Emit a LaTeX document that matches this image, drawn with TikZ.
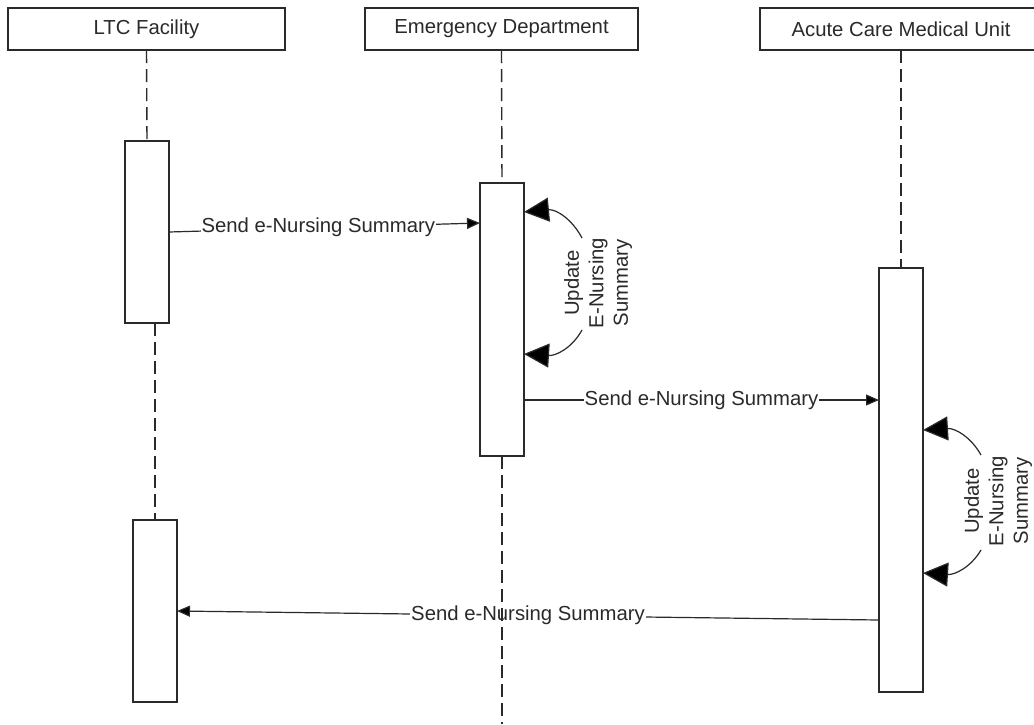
\documentclass[tikz,border=0pt]{standalone}
\usepackage{fontspec}
\setmainfont{Liberation Sans}
\usetikzlibrary{arrows.meta,calc}
\definecolor{ink}{HTML}{2A2A2A}
\tikzset{
  every node/.style={font=\fontsize{20.3}{23}\selectfont, text=ink},
  hdr/.style={draw=ink, line width=1.4pt, fill=white, inner sep=0pt, outer sep=0pt, anchor=north west},
  actbox/.style={draw=ink, line width=1.4pt, fill=white, inner sep=0pt, outer sep=0pt, anchor=north west, minimum width=44pt},
  life/.style={draw=ink, line width=1.4pt, dash pattern=on 13pt off 6pt},
  msg/.style={draw=ink, line width=1.2pt, -{Triangle[length=13pt,width=11pt,fill=black]}},
  msglbl/.style={fill=white, inner sep=1pt, midway},
  loopar/.style={draw=ink, line width=1.2pt, -{Triangle[length=25pt,width=24pt,fill=black]}},
  looplbl/.style={rotate=90, align=center, inner sep=1pt, font=\fontsize{20.3}{24.5}\selectfont}
}
\begin{document}
\begin{tikzpicture}[x=1pt,y=-1pt]
\useasboundingbox (0,0) rectangle (1034,724);
\clip (0,0) rectangle (1034,724);
\fill[white] (0,0) rectangle (1034,724);
% headers
\node[hdr, minimum width=277pt, minimum height=42pt] (h1) at (8,8) {LTC Facility};
\node[hdr, minimum width=273pt, minimum height=42pt] (h2) at (365,8) {Emergency Department};
\node[hdr, minimum width=282pt, minimum height=42pt] (h3) at (760,8) {Acute Care Medical Unit};
% activation boxes
\node[actbox, minimum height=182pt] (a1) at (125,141) {};
\node[actbox, minimum height=182pt] (a2) at (133,520) {};
\node[actbox, minimum height=273pt] (a3) at (480,183) {};
\node[actbox, minimum height=424pt] (a4) at (879,268) {};
% lifelines
\coordinate (edEnd) at (502,724);
\draw[life] (h1.south) -- (a1.north);
\draw[life] (a1.south -| a2.north) -- (a2.north);
\draw[life] (h2.south) -- (a3.north);
\draw[life] (h3.south) -- (a4.north);
% messages
\coordinate (m1e) at ($(a3.north west)+(0,40)$);
\draw[msg] (a1.east) -- node[msglbl, pos=0.48] (l1) {Send e-Nursing Summary} (m1e);
\coordinate (m2s) at ($(a3.north east)+(0,217)$);
\coordinate (m2e) at ($(a4.north west)+(0,132)$);
\draw[msg] (m2s) -- node[msglbl] (l2) {Send e-Nursing Summary} (m2e);
\coordinate (m3s) at ($(a4.north west)+(0,352)$);
\draw[msg] (m3s) -- node[msglbl] (l3) {Send e-Nursing Summary} (a2.east);
% lower ED lifeline (drawn over the label, as in the reference)
\draw[life] (a3.south) -- (edEnd);
% self loops
\node[looplbl] (u1) at (598,283) {Update\\E-Nursing\\Summary};
\coordinate (u1t) at (582,238);
\coordinate (u1b) at (582,330);
\coordinate (t1a) at ($(a3.north east)+(0,29)$);
\coordinate (t1b) at ($(a3.north east)+(0,171)$);
\draw[loopar] (u1t) .. controls (572,219) and (556,209) .. (t1a);
\draw[loopar] (u1b) .. controls (572,348) and (556,356) .. (t1b);
\node[looplbl] (u2) at (998,501) {Update\\E-Nursing\\Summary};
\coordinate (u2t) at (981,455);
\coordinate (u2b) at (981,550);
\coordinate (t2a) at ($(a4.north east)+(0,162)$);
\coordinate (t2b) at ($(a4.north east)+(0,305)$);
\draw[loopar] (u2t) .. controls (971,437) and (955,428) .. (t2a);
\draw[loopar] (u2b) .. controls (971,567) and (955,575) .. (t2b);
\end{tikzpicture}
\end{document}
